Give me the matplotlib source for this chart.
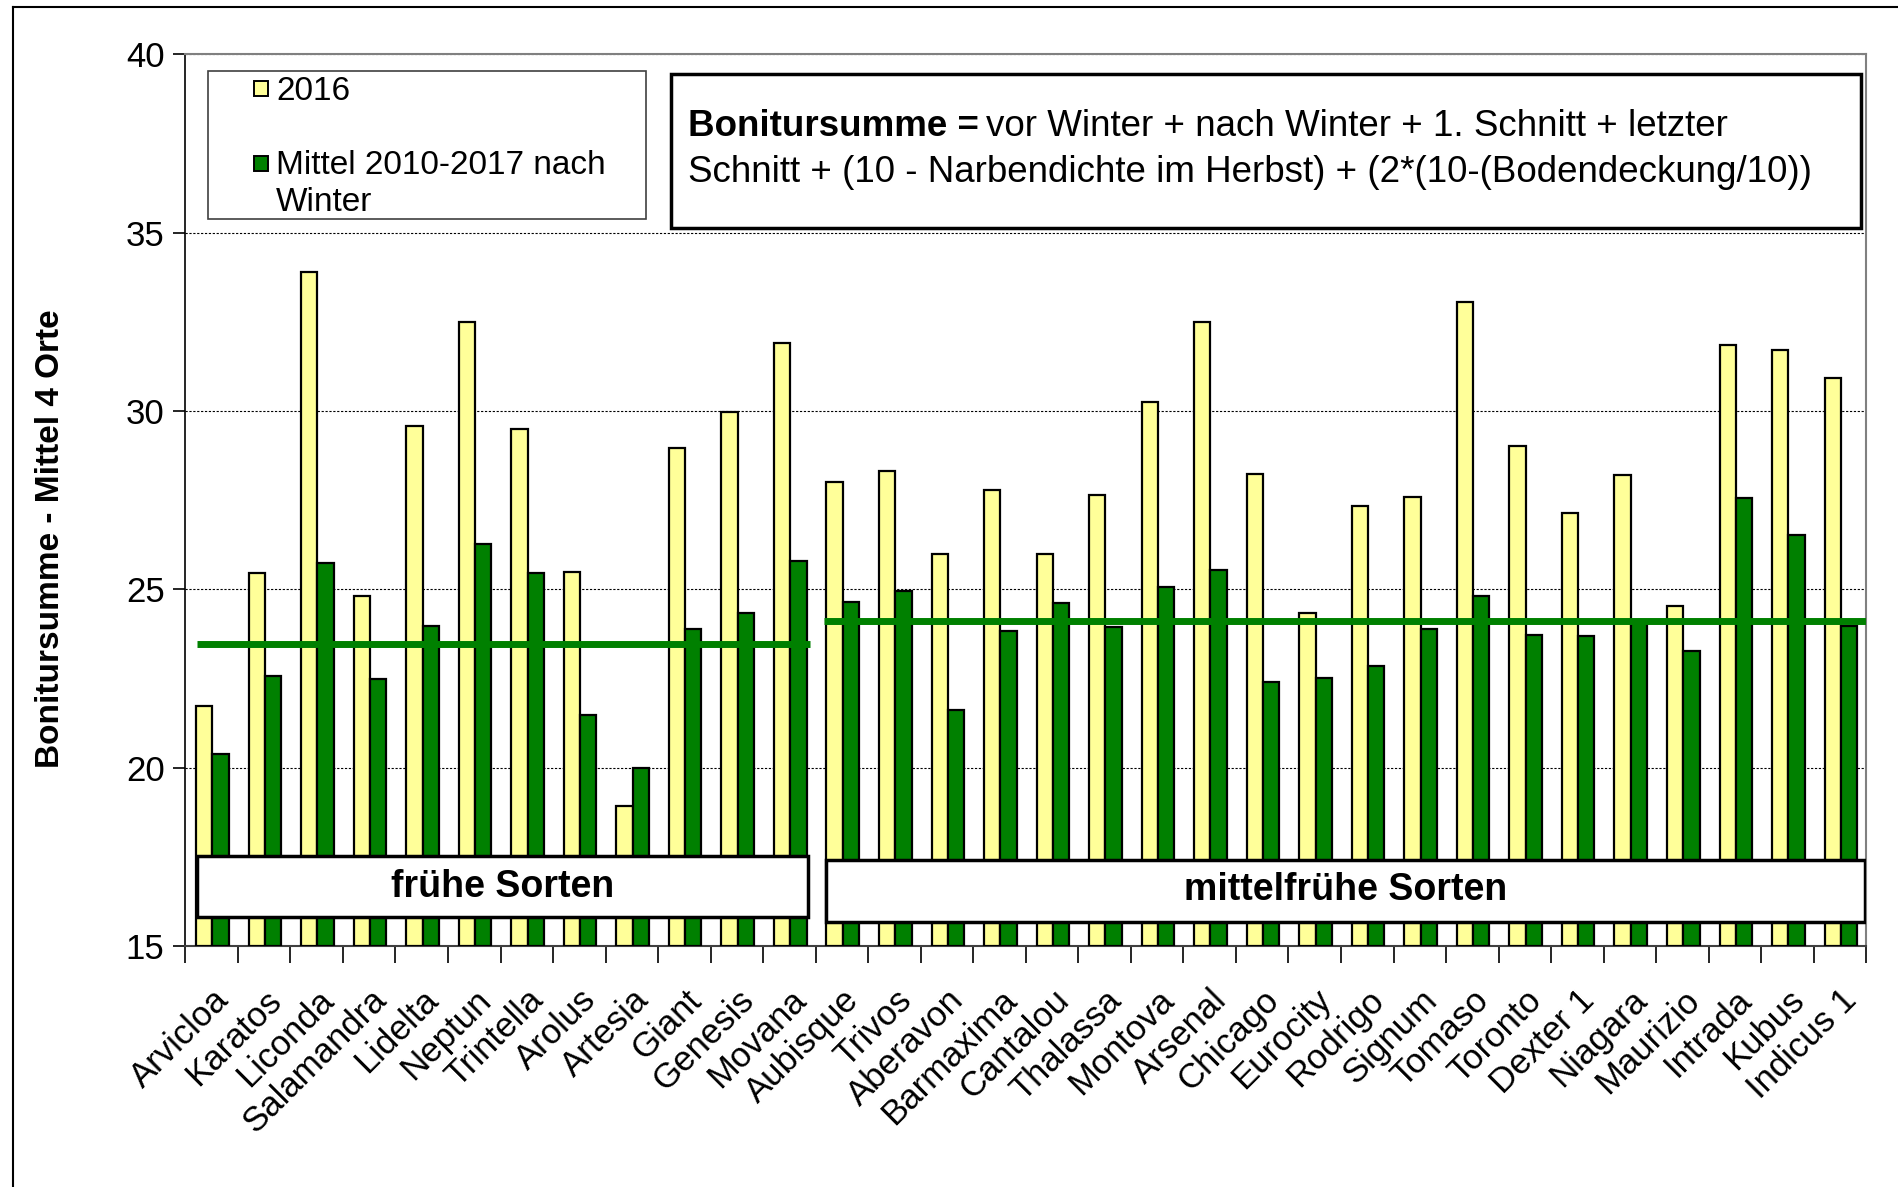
import numpy as np
import matplotlib
matplotlib.use("Agg")
import matplotlib.pyplot as plt
from matplotlib.patches import Rectangle
from matplotlib.lines import Line2D

# Schrift
plt.rcParams["font.family"] = ["Liberation Sans", "DejaVu Sans"]

# Daten
sorten_frueh = ["Arvicloa", "Karatos", "Liconda", "Salamandra", "Lidelta", "Neptun",
                "Trintella", "Arolus", "Artesia", "Giant", "Genesis", "Movana"]
sorten_mittel = ["Aubisque", "Trivos", "Aberavon", "Barmaxima", "Cantalou", "Thalassa",
                 "Montova", "Arsenal", "Chicago", "Eurocity", "Rodrigo", "Signum",
                 "Tomaso", "Toronto", "Dexter 1", "Niagara", "Maurizio", "Intrada",
                 "Kubus", "Indicus 1"]
werte_2016 = [21.73, 25.46, 33.89, 24.80, 29.58, 32.49, 29.51, 25.49, 18.93, 28.96, 29.98, 31.92,
              28.01, 28.31, 26.00, 27.80, 26.00, 27.64, 30.25, 32.49, 28.24, 24.34, 27.35, 27.58,
              33.07, 29.03, 27.15, 28.20, 24.54, 31.85, 31.71, 30.93]
werte_mittel = [20.38, 22.56, 25.73, 22.49, 23.98, 26.26, 25.46, 21.47, 20.00, 23.90, 24.35, 25.80,
                24.65, 24.95, 21.62, 23.83, 24.62, 23.95, 25.07, 25.55, 22.41, 22.52, 22.86, 23.90,
                24.80, 23.71, 23.68, 24.10, 23.26, 27.57, 26.52, 23.98]
mittel_frueh = 23.47
mittel_mittelfrueh = 24.12

sorten = sorten_frueh + sorten_mittel
x = np.arange(len(sorten))

gelb = "#FFFF99"
gruen = "#008000"

fig = plt.figure(figsize=(18.99, 11.87), dpi=100)
ax = fig.add_axes([0.0976, 0.2031, 0.8852, 0.751])

# Balken
b = 0.31
ax.bar(x - 0.14, np.array(werte_2016) - 15, b, bottom=15, color=gelb,
       edgecolor="black", linewidth=1.6, zorder=3)
ax.bar(x + 0.17, np.array(werte_mittel) - 15, b, bottom=15, color=gruen,
       edgecolor="black", linewidth=1.6, zorder=3)

# Mittelwert-Linien
n1 = len(sorten_frueh)
ax.plot([-0.27, n1 - 1 + 0.4], [mittel_frueh, mittel_frueh], color=gruen, lw=5, zorder=4,
        solid_capstyle="butt")
ax.plot([n1 - 1 + 0.65, len(sorten) - 0.5], [mittel_mittelfrueh, mittel_mittelfrueh],
        color=gruen, lw=5, zorder=4, solid_capstyle="butt")

# Achsen
ax.set_xlim(-0.5, len(sorten) - 0.5)
ax.set_ylim(15, 40)
ax.set_yticks([15, 20, 25, 30, 35, 40])
ax.tick_params(axis="y", labelsize=25, length=9, width=1.2, direction="out", pad=6)
ax.set_xticks(np.arange(len(sorten) + 1) - 0.5)
ax.set_xticklabels([])
ax.set_xticks(x, minor=True)
ax.set_xticklabels(sorten, minor=True, rotation=45, ha="right", va="top",
                   rotation_mode="anchor", fontsize=25)
ax.tick_params(axis="x", which="major", length=12, width=1.2, direction="out")
ax.tick_params(axis="x", which="minor", length=0, pad=27)

ax.yaxis.grid(True, color="black", linestyle=(0, (2, 1.5)), linewidth=0.8, zorder=0)
ax.set_axisbelow(True)
for s in ["top", "right"]:
    ax.spines[s].set_color("#808080")
    ax.spines[s].set_linewidth(1.5)
ax.spines["left"].set_linewidth(1.2)
ax.spines["bottom"].set_linewidth(1.5)
ax.spines["bottom"].set_color("#404040")

fig.text(0.0265, 0.546, "Bonitursumme - Mittel 4 Orte", rotation=90, ha="center",
         va="center", fontsize=24, fontweight="bold")

# Legende
ax.add_patch(Rectangle((0.0137, 0.815), 0.2601, 0.167, transform=ax.transAxes,
                       facecolor="white", edgecolor="#404040", lw=1.2, zorder=6))
ax.add_patch(Rectangle((0.0411, 0.953), 0.0083, 0.0175, transform=ax.transAxes,
                       facecolor=gelb, edgecolor="black", lw=1.4, zorder=7))
ax.text(0.0540, 0.959, "2016", transform=ax.transAxes, fontsize=24, va="center", zorder=7)
ax.add_patch(Rectangle((0.0411, 0.869), 0.0083, 0.0175, transform=ax.transAxes,
                       facecolor=gruen, edgecolor="black", lw=1.4, zorder=7))
ax.text(0.0540, 0.876, "Mittel 2010-2017 nach", transform=ax.transAxes, fontsize=24,
        va="center", zorder=7)
ax.text(0.0540, 0.834, "Winter", transform=ax.transAxes, fontsize=24, va="center", zorder=7)

# Formel
ax.add_patch(Rectangle((0.2889, 0.8057), 0.7082, 0.1726, transform=ax.transAxes,
                       facecolor="white", edgecolor="black", lw=2.5, zorder=6))
t1 = ax.text(0.299, 0.919, "Bonitursumme =", transform=ax.transAxes, fontsize=26.5,
             fontweight="bold", va="center", zorder=7)
fig.canvas.draw()
bb = t1.get_window_extent().transformed(ax.transAxes.inverted())
ax.text(bb.x1 + 0.004, 0.919, "vor Winter + nach Winter + 1. Schnitt + letzter",
        transform=ax.transAxes, fontsize=26.5, va="center", zorder=7)
ax.text(0.299, 0.868, "Schnitt + (10 - Narbendichte im Herbst) + (2*(10-(Bodendeckung/10))",
        transform=ax.transAxes, fontsize=26.5, va="center", zorder=7)

# Gruppen-Kaesten
ax.add_patch(Rectangle((0.0072, 0.0326), 0.3631, 0.0679, transform=ax.transAxes,
                       facecolor="white", edgecolor="black", lw=2.5, zorder=6))
ax.text(0.1888, 0.0666, "frühe Sorten", transform=ax.transAxes, fontsize=27,
        fontweight="bold", ha="center", va="center", zorder=7)
ax.add_patch(Rectangle((0.3811, 0.0272), 0.6182, 0.0693, transform=ax.transAxes,
                       facecolor="white", edgecolor="black", lw=2.5, zorder=6))
ax.text(0.6902, 0.0625, "mittelfrühe Sorten", transform=ax.transAxes, fontsize=27,
        fontweight="bold", ha="center", va="center", zorder=7)

# Rahmen
fig.add_artist(Line2D([0.0068, 0.0068], [0.0, 0.9941], color="black", lw=1.5))
fig.add_artist(Line2D([0.0068, 1.0], [0.9941, 0.9941], color="black", lw=1.5))

fig.savefig("out.png", dpi=100)
